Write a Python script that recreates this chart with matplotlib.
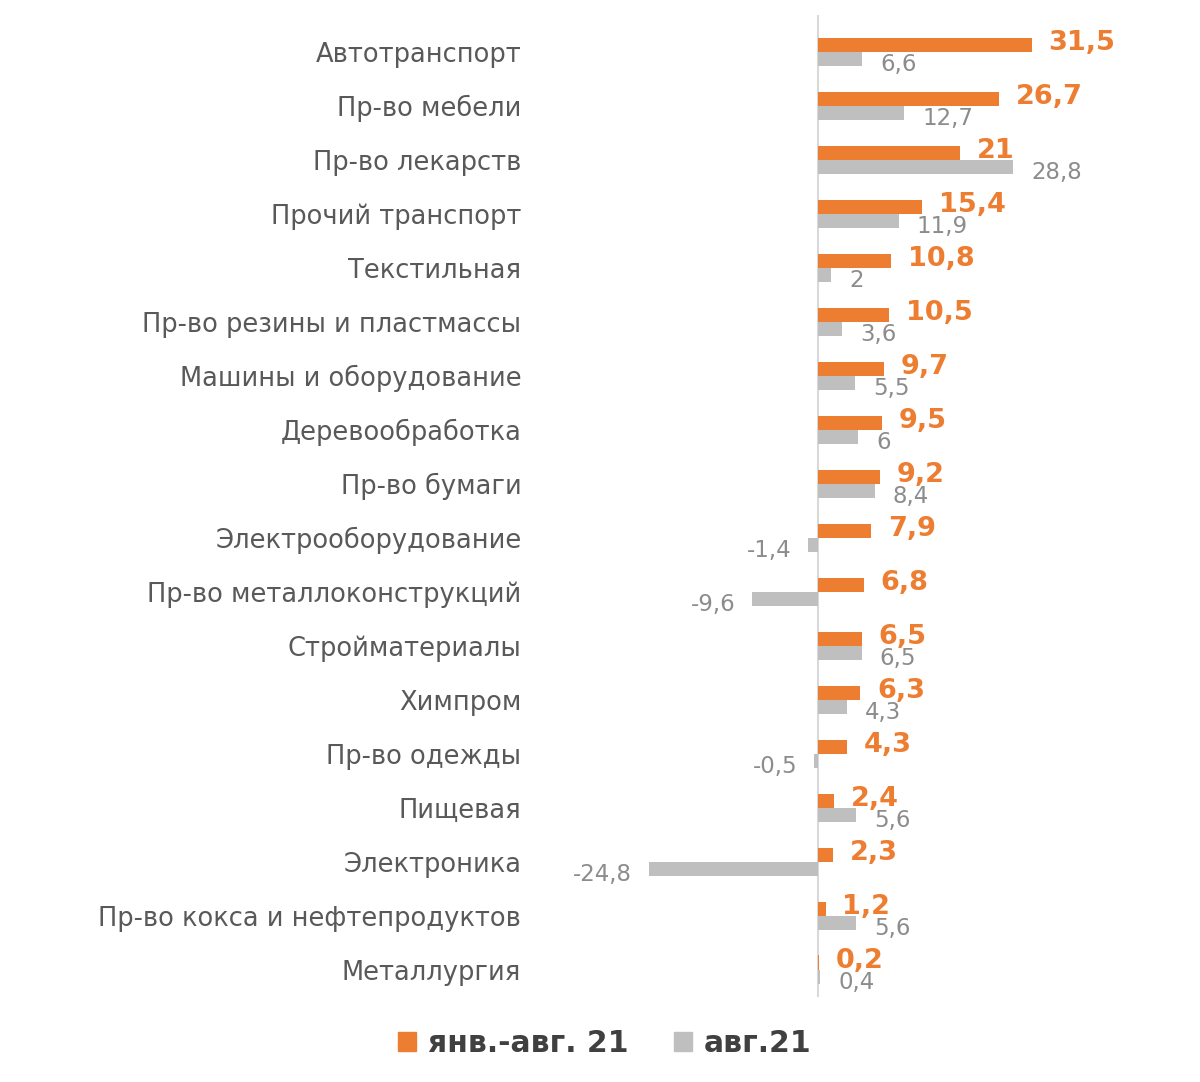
import matplotlib.pyplot as plt
from matplotlib.patches import Patch
import numpy as np

# categories, top to bottom
categories = ['Автотранспорт', 'Пр-во мебели', 'Пр-во лекарств', 'Прочий транспорт',
              'Текстильная', 'Пр-во резины и пластмассы', 'Машины и оборудование',
              'Деревообработка', 'Пр-во бумаги', 'Электрооборудование',
              'Пр-во металлоконструкций', 'Стройматериалы', 'Химпром', 'Пр-во одежды',
              'Пищевая', 'Электроника', 'Пр-во кокса и нефтепродуктов', 'Металлургия']
jan_aug = [31.5, 26.7, 21, 15.4, 10.8, 10.5, 9.7, 9.5, 9.2, 7.9, 6.8, 6.5, 6.3, 4.3,
           2.4, 2.3, 1.2, 0.2]
aug = [6.6, 12.7, 28.8, 11.9, 2, 3.6, 5.5, 6, 8.4, -1.4, -9.6, 6.5, 4.3, -0.5,
       5.6, -24.8, 5.6, 0.4]
series_names = ['янв.-авг. 21', 'авг.21']

ORANGE = '#ED7D31'
GRAY = '#BFBFBF'


def fmt(v):
    s = ('%.1f' % v).rstrip('0').rstrip('.')
    return s.replace('.', ',')


plt.rcParams['font.family'] = ['DejaVu Sans']

fig = plt.figure(figsize=(12, 10.82), dpi=100)
ax = fig.add_axes([0.534, 0.079, 0.374, 0.907])

y = np.arange(len(categories))
h = 0.26
ax.barh(y - h / 2, jan_aug, height=h, color=ORANGE, zorder=2)
ax.barh(y + h / 2, aug, height=h, color=GRAY, zorder=2)

ax.set_xlim(-26, 40)
ax.set_ylim(17.5, -0.68)
ax.axvline(0, color='#D9D9D9', lw=1.5, zorder=1)

# value labels
for i, v in enumerate(jan_aug):
    ax.annotate(fmt(v), (v, i - h / 2), xytext=(12, 1), textcoords='offset points',
                ha='left', va='center', color=ORANGE, fontsize=19.5, fontweight='bold',
                annotation_clip=False)
for i, v in enumerate(aug):
    if v >= 0:
        ax.annotate(fmt(v), (v, i + h / 2), xytext=(13, -4), textcoords='offset points',
                    ha='left', va='center', color='#8C8C8C', fontsize=16.5,
                    annotation_clip=False)
    else:
        ax.annotate(fmt(v), (v, i + h / 2), xytext=(-12, -4), textcoords='offset points',
                    ha='right', va='center', color='#8C8C8C', fontsize=16.5,
                    annotation_clip=False)

ax.set_yticks(y)
ax.set_yticklabels(categories, fontsize=18.5, color='#595959')
ax.tick_params(axis='y', length=0, pad=86)
ax.set_xticks([])
for s in ax.spines.values():
    s.set_visible(False)

handles = [Patch(color=ORANGE), Patch(color=GRAY)]
fig.legend(handles, series_names, loc='center', bbox_to_anchor=(0.504, 0.036), ncol=2,
           frameon=False, handlelength=0.6, handleheight=0.6, handletextpad=0.4,
           columnspacing=1.5, prop={'size': 21.5, 'weight': 'bold'}, labelcolor='#404040')

fig.savefig('out.png', dpi=100, facecolor='white')
